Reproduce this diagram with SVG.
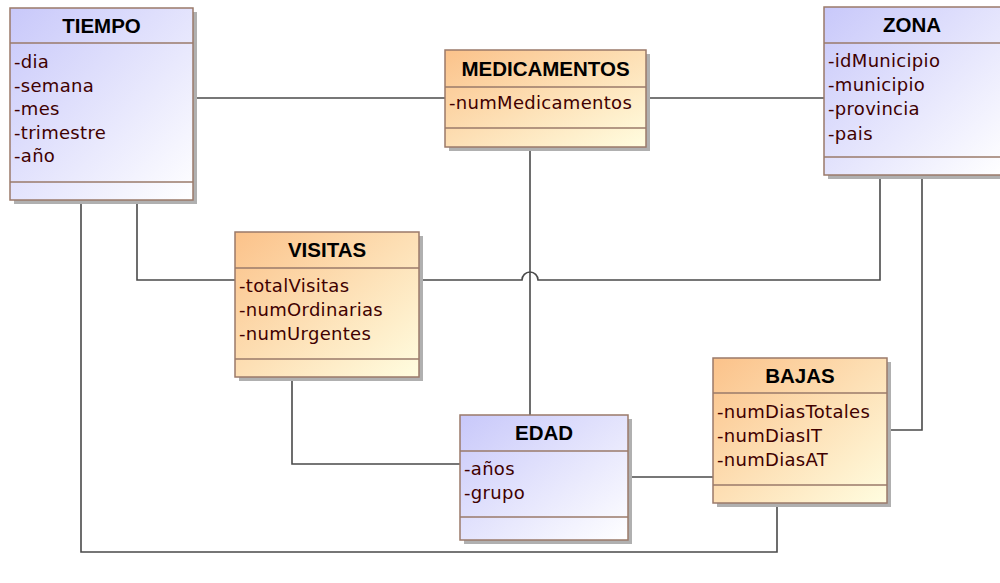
<svg xmlns="http://www.w3.org/2000/svg" width="1000" height="583" viewBox="0 0 1000 583">
<defs>
<linearGradient id="gBlue" x1="0" y1="0" x2="1" y2="1">
<stop offset="0" stop-color="#c8c8fa"/>
<stop offset="1" stop-color="#ffffff"/>
</linearGradient>
<linearGradient id="gOrange" x1="0" y1="0" x2="1" y2="1">
<stop offset="0" stop-color="#fbc28a"/>
<stop offset="1" stop-color="#fffde0"/>
</linearGradient>
</defs>
<style>
.shadow{fill:#b0b0b0}
.blue{fill:url(#gBlue);stroke:#9a7a6a;stroke-width:1.5}
.orange{fill:url(#gOrange);stroke:#9a7a6a;stroke-width:1.5}
.sep{stroke:#9a7a6a;stroke-width:1.5}
.title{font-family:"Liberation Sans",Arial,sans-serif;font-weight:bold;font-size:20.5px;fill:#000;text-anchor:middle}
.attr{font-family:"DejaVu Sans",Verdana,sans-serif;font-size:18px;letter-spacing:0.3px;fill:#400000}
.conn{fill:none;stroke:#4a4a4a;stroke-width:1.6}
</style>
<rect width="1000" height="583" fill="#ffffff"/>

<g id="connectors">
<path class="conn" d="M193,98 H445"/>
<path class="conn" d="M646,98 H824"/>
<path class="conn" d="M530,147 V415"/>
<path class="conn" d="M137,200 V280 H235"/>
<path class="conn" d="M419,280 H522 A8,8 0 0 1 538,280 H880 V175"/>
<path class="conn" d="M81,200 V552 H777 V503"/>
<path class="conn" d="M292,377 V464 H460"/>
<path class="conn" d="M628,477 H713"/>
<path class="conn" d="M922,175 V430 H887"/>
</g>

<g id="TIEMPO">
<rect class="shadow" x="14" y="12" width="183" height="192"/>
<rect class="blue" x="10" y="8" width="183" height="192"/>
<line class="sep" x1="10" y1="43" x2="193" y2="43"/>
<line class="sep" x1="10" y1="182" x2="193" y2="182"/>
<text class="title" x="101.5" y="33">TIEMPO</text>
<text class="attr" x="14" y="68">-dia</text>
<text class="attr" x="14" y="91.5">-semana</text>
<text class="attr" x="14" y="115">-mes</text>
<text class="attr" x="14" y="138.5">-trimestre</text>
<text class="attr" x="14" y="162">-año</text>
</g>

<g id="MEDICAMENTOS">
<rect class="shadow" x="449" y="54" width="201" height="97"/>
<rect class="orange" x="445" y="50" width="201" height="97"/>
<line class="sep" x1="445" y1="87" x2="646" y2="87"/>
<line class="sep" x1="445" y1="128" x2="646" y2="128"/>
<text class="title" x="545.5" y="76">MEDICAMENTOS</text>
<text class="attr" x="449" y="109">-numMedicamentos</text>
</g>

<g id="ZONA">
<rect class="shadow" x="828" y="11" width="177" height="168"/>
<rect class="blue" x="824" y="7" width="177" height="168"/>
<line class="sep" x1="824" y1="43" x2="1001" y2="43"/>
<line class="sep" x1="824" y1="157" x2="1001" y2="157"/>
<text class="title" x="912" y="32">ZONA</text>
<text class="attr" x="828" y="67">-idMunicipio</text>
<text class="attr" x="828" y="91">-municipio</text>
<text class="attr" x="828" y="115">-provincia</text>
<text class="attr" x="828" y="139.5">-pais</text>
</g>

<g id="VISITAS">
<rect class="shadow" x="239" y="236" width="184" height="145"/>
<rect class="orange" x="235" y="232" width="184" height="145"/>
<line class="sep" x1="235" y1="268" x2="419" y2="268"/>
<line class="sep" x1="235" y1="359" x2="419" y2="359"/>
<text class="title" x="327" y="257">VISITAS</text>
<text class="attr" x="239" y="292">-totalVisitas</text>
<text class="attr" x="239" y="316">-numOrdinarias</text>
<text class="attr" x="239" y="339.5">-numUrgentes</text>
</g>

<g id="EDAD">
<rect class="shadow" x="464" y="419" width="168" height="125"/>
<rect class="blue" x="460" y="415" width="168" height="125"/>
<line class="sep" x1="460" y1="451" x2="628" y2="451"/>
<line class="sep" x1="460" y1="517" x2="628" y2="517"/>
<text class="title" x="544" y="440">EDAD</text>
<text class="attr" x="464" y="475">-años</text>
<text class="attr" x="464" y="498.5">-grupo</text>
</g>

<g id="BAJAS">
<rect class="shadow" x="717" y="362" width="174" height="145"/>
<rect class="orange" x="713" y="358" width="174" height="145"/>
<line class="sep" x1="713" y1="393" x2="887" y2="393"/>
<line class="sep" x1="713" y1="485" x2="887" y2="485"/>
<text class="title" x="800" y="383">BAJAS</text>
<text class="attr" x="717" y="417.5">-numDiasTotales</text>
<text class="attr" x="717" y="442">-numDiasIT</text>
<text class="attr" x="717" y="465.5">-numDiasAT</text>
</g>
</svg>
